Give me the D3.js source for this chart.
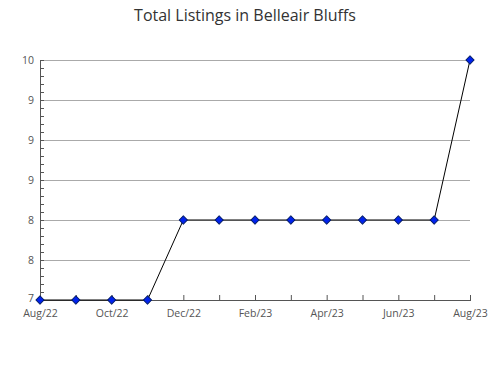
<!DOCTYPE html>
<html><head><meta charset="utf-8">
<script src="https://cdn.jsdelivr.net/npm/d3@7"></script>
<style>body{margin:0;background:#fff;} text{font-family:"Open Sans",sans-serif;}</style>
</head><body>
<svg id="c" width="490" height="380"></svg>
<script>
const months = ["Aug/22","Sep/22","Oct/22","Nov/22","Dec/22","Jan/23","Feb/23","Mar/23","Apr/23","May/23","Jun/23","Jul/23","Aug/23"];
const listings = [7,7,7,7,8,8,8,8,8,8,8,8,10];
const yTickValues = [7,7.5,8,8.5,9,9.5,10];
const yTickLabels = ["7","8","8","9","9","9","10"];
const title = "Total Listings in Belleair Bluffs";

const svg = d3.select("#c");
const m = {l:40, r:470, t:60, b:300};
const x = d3.scalePoint().domain(months).range([m.l, m.r]);
const y = d3.scaleLinear().domain([7,10]).range([m.b, m.t]);

svg.append("text").attr("x",245).attr("y",21).attr("text-anchor","middle")
  .attr("font-size",16).attr("fill","#333").text(title);

// gridlines
svg.append("g").selectAll("line").data(yTickValues.slice(1)).join("line")
  .attr("x1",m.l).attr("x2",m.r).attr("y1",d=>y(d)).attr("y2",d=>y(d))
  .attr("stroke","#aaa").attr("stroke-width",1).attr("shape-rendering","crispEdges");

// minor ticks on y axis
const minor = d3.range(0,31).map(i=>7+i*0.1);
svg.append("g").selectAll("line").data(minor).join("line")
  .attr("x1",m.l).attr("x2",m.l+4).attr("y1",d=>Math.round(y(d))+0.5).attr("y2",d=>Math.round(y(d))+0.5)
  .attr("stroke","#555").attr("stroke-width",1);

// y axis
const yAxis = d3.axisLeft(y).tickValues(yTickValues).tickSize(0).tickPadding(6)
  .tickFormat((d,i)=>yTickLabels[i]);
const gy = svg.append("g").attr("transform",`translate(${m.l},0)`).call(yAxis);
gy.select(".domain").attr("stroke","#555").attr("shape-rendering","crispEdges");
gy.selectAll("text").attr("font-size",10.5).attr("fill","#555").attr("font-family","Open Sans, sans-serif");
gy.selectAll(".tick text").filter((d,i)=>i===0).attr("dy","0.1em");

// x axis
const xAxis = d3.axisBottom(x).tickSizeInner(-5).tickSizeOuter(0).tickPadding(10)
  .tickFormat((d,i)=> i%2===0 ? d : "");
const gx = svg.append("g").attr("transform",`translate(0,${m.b})`).call(xAxis);
gx.select(".domain").attr("stroke","#555").attr("shape-rendering","crispEdges");
gx.selectAll(".tick line").attr("stroke","#555");
gx.selectAll("text").attr("font-size",10.5).attr("fill","#555").attr("font-family","Open Sans, sans-serif");

// line
const line = d3.line().x((d,i)=>x(months[i])).y(d=>y(d));
svg.append("path").datum(listings).attr("d",line).attr("fill","none")
  .attr("stroke","#000").attr("stroke-width",1);

// markers
svg.append("g").selectAll("path").data(listings).join("path")
  .attr("transform",(d,i)=>`translate(${x(months[i])},${y(d)}) rotate(45)`)
  .attr("d",d3.symbol(d3.symbolSquare,34))
  .attr("fill","#0022ee").attr("stroke","#001a66").attr("stroke-width",1)
  .attr("stroke-linejoin","round");
</script>
</body></html>
